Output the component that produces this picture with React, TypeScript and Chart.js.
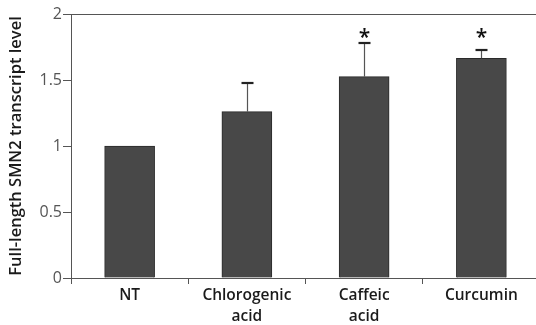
import React, { useEffect, useRef } from "react";
import { Chart, registerables } from "chart.js";
Chart.register(...registerables);

const categories = [["NT"], ["Chlorogenic", "acid"], ["Caffeic", "acid"], ["Curcumin"]];
const means = [1.0, 1.26, 1.525, 1.665];
const errors = [0, 0.22, 0.255, 0.06];
const significance = ["", "", "*", "*"];
const yTicks = [0, 0.5, 1, 1.5, 2];
const sigLevel = 1.85;
const yTitle = "Full-length SMN2 transcript level";

const FONT = "'Open Sans', 'Noto Sans', sans-serif";

const errorPlugin = {
  id: "errorBars",
  afterDatasetsDraw(chart: any) {
    const ctx = chart.ctx;
    const y = chart.scales.y;
    const meta = chart.getDatasetMeta(0);
    ctx.save();
    meta.data.forEach((bar: any, i: number) => {
      const x = Math.round(bar.x) + 0.5;
      if (errors[i] > 0) {
        const yTop = y.getPixelForValue(means[i]);
        const yErr = Math.round(y.getPixelForValue(means[i] + errors[i]));
        ctx.strokeStyle = "#555";
        ctx.lineWidth = 1.2;
        ctx.beginPath();
        ctx.moveTo(x, yTop);
        ctx.lineTo(x, yErr);
        ctx.stroke();
        ctx.strokeStyle = "#222";
        ctx.lineWidth = 2.2;
        ctx.beginPath();
        ctx.moveTo(x - 6, yErr);
        ctx.lineTo(x + 6, yErr);
        ctx.stroke();
      }
      if (significance[i]) {
        ctx.fillStyle = "#111";
        ctx.font = `600 21px ${FONT}`;
        ctx.textAlign = "center";
        ctx.textBaseline = "middle";
        ctx.fillText(significance[i], x, y.getPixelForValue(sigLevel) + 4);
      }
    });
    ctx.restore();
  },
};

export default function App() {
  const ref = useRef<HTMLCanvasElement | null>(null);
  useEffect(() => {
    if (!ref.current) return;
    const chart = new Chart(ref.current, {
      type: "bar",
      data: {
        labels: categories as any,
        datasets: [
          {
            data: means,
            backgroundColor: "#484848",
            borderColor: "#2a2a2a",
            borderWidth: 1,
            barThickness: 50,
          },
        ],
      },
      options: {
        animation: false,
        responsive: false,
        maintainAspectRatio: false,
        layout: { padding: { top: 14, right: 0, left: 0, bottom: 0 } },
        plugins: { legend: { display: false }, tooltip: { enabled: false } },
        scales: {
          x: {
            grid: {
              offset: true,
              drawOnChartArea: false,
              tickLength: 6,
              tickColor: "#555",
              color: "#555",
            },
            border: { color: "#555", width: 1 },
            ticks: {
              color: "#1a1a1a",
              font: { family: FONT, size: 15.5, weight: 600, lineHeight: 1.3 },
              padding: 2,
              maxRotation: 0,
              autoSkip: false,
            },
            afterFit(scale: any) {
              scale.height = 47;
            },
          },
          y: {
            min: 0,
            max: 2,
            afterBuildTicks(scale: any) {
              scale.ticks = yTicks.map((v) => ({ value: v }));
            },
            grid: {
              drawOnChartArea: true,
              color: (c: any) => (c.tick && c.tick.value === 2 ? "#555" : "rgba(0,0,0,0)"),
              tickColor: "#555",
              tickLength: 8,
            },
            border: { color: "#555", width: 1 },
            ticks: {
              color: "#555",
              font: { family: FONT, size: 16 },
              padding: 1,
              callback: (v: any) => String(v),
            },
            title: {
              display: true,
              text: yTitle,
              color: "#1a1a1a",
              font: { family: FONT, size: 16.5, weight: 600 },
              padding: { top: 6, bottom: 2 },
            },
            afterFit(scale: any) {
              scale.width = 71;
            },
          },
        },
      },
      plugins: [errorPlugin],
    });
    return () => chart.destroy();
  }, []);
  return (
    <div style={{ position: "fixed", left: 0, top: 0, width: 540, height: 325, background: "#fff" }}>
      <canvas ref={ref} width={540} height={325} style={{ width: 540, height: 325, display: "block" }} />
    </div>
  );
}
